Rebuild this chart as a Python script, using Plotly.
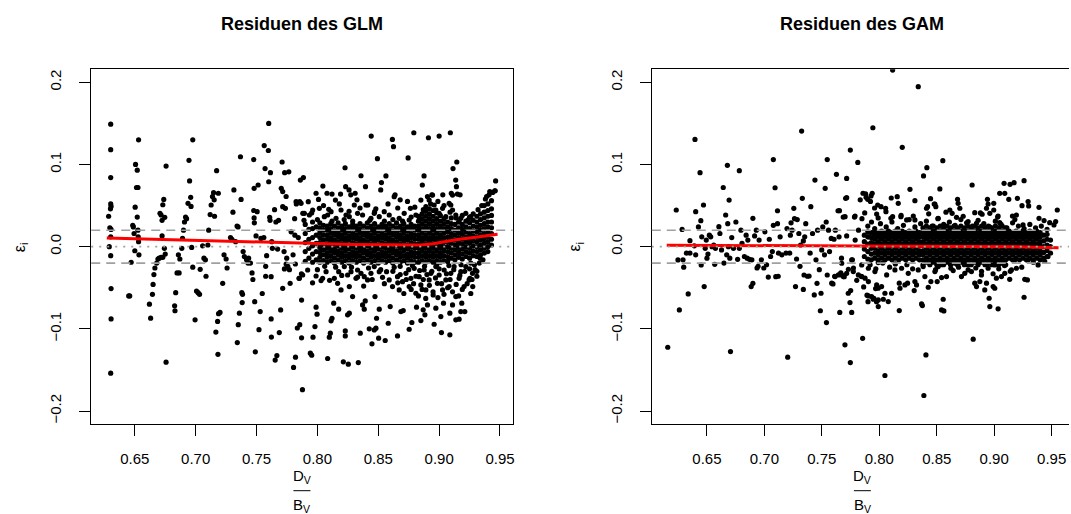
import plotly.graph_objects as go

# ---------------- data ----------------
# GLM residuals: scattered points (x = D_V/B_V, y = residual)
glm_sparse = [
 (0.6302,0.149),(0.6302,0.118),(0.6302,0.084),(0.6302,0.052),(0.6305,0.049),(0.6300,0.046),(0.6285,0.037),
 (0.6295,0.023),(0.6305,0.021),(0.6302,0.012),(0.6290,0.000),(0.6302,-0.011),(0.6305,-0.051),(0.6305,-0.088),(0.6302,-0.154),
 (0.6450,-0.060),(0.6458,-0.060),(0.6470,-0.019),(0.6483,0.026),(0.6488,0.024),(0.6494,0.016),(0.6500,-0.005),(0.6503,0.048),
 (0.6506,0.100),(0.6520,0.093),(0.6514,0.072),(0.6526,0.072),(0.6520,0.036),(0.6526,0.020),(0.6528,0.012),(0.6531,0.006),
 (0.6534,-0.010),(0.6531,0.130),
 (0.662,-0.070),(0.663,-0.087),(0.6645,-0.058),(0.665,-0.046),(0.6657,-0.034),(0.6665,-0.026),(0.668,-0.020),(0.669,-0.015),
 (0.670,-0.014),(0.6716,-0.013),(0.673,-0.013),(0.6707,0.0405),(0.6716,0.0385),(0.6724,0.032),(0.673,0.051),(0.6738,0.0575),
 (0.6746,0.0357),(0.6724,0.013),(0.6743,-0.002),(0.675,-0.009),(0.6757,-0.1406),(0.6757,0.098),
 (0.6827,-0.072),(0.683,-0.078),(0.6836,-0.056),(0.6847,-0.032),(0.6864,-0.032),(0.6858,-0.010),(0.687,-0.015),(0.6886,-0.002),
 (0.6892,0.010),(0.690,0.020),(0.6908,0.030),(0.6917,0.036),(0.6925,0.034),(0.6937,0.0527),(0.6945,0.105),(0.695,0.080),
 (0.6959,0.060),(0.6962,0.049),(0.6967,-0.001),(0.6976,0.130),(0.6976,-0.025),
 (0.6995,-0.089),(0.7007,-0.054),(0.702,-0.056),(0.7032,-0.058),(0.7037,-0.0276),(0.7057,0.001),(0.7068,-0.014),(0.708,-0.016),
 (0.7085,-0.036),(0.710,0.002),(0.7107,0.020),(0.7119,0.039),(0.7127,0.0507),(0.7138,0.061),(0.7147,0.0657),(0.7152,0.057),
 (0.7155,0.037),(0.7172,0.0924),(0.7166,-0.104),(0.718,-0.091),(0.7188,-0.0815),(0.720,-0.080),(0.7186,0.065),(0.7183,-0.131),
 (0.7222,-0.0446),(0.7233,-0.010),(0.725,-0.015),(0.7258,-0.026),(0.7286,0.011),(0.7298,0.009),(0.7306,0.042),(0.7314,0.069),
 (0.7328,0.006),(0.734,0.025),(0.7348,0.024),(0.7342,-0.1167),(0.735,-0.095),(0.7359,-0.081),(0.7368,0.1094),(0.7373,0.0575),
 (0.7379,-0.056),(0.7385,-0.058),(0.7382,-0.068),(0.739,-0.006),(0.740,-0.012),(0.7418,-0.016),(0.743,-0.020),(0.7435,-0.014),
 (0.745,-0.020),(0.7463,-0.032),(0.747,-0.040),
 (0.7477,0.044),(0.748,0.035),(0.7482,0.029),(0.7477,0.106),(0.748,0.071),(0.7485,-0.067),(0.749,-0.128),(0.7496,0.013),
 (0.7505,0.0425),(0.7513,0.075),(0.752,-0.101),(0.753,-0.079),(0.7536,0.010),(0.7547,-0.057),(0.756,0.011),(0.7563,0.123),
 (0.7575,-0.036),(0.757,0.095),(0.7575,-0.024),(0.7583,-0.011),(0.7597,0.117),(0.760,0.150),(0.760,0.079),(0.7608,0.0357),
 (0.7611,0.032),(0.7614,0.090),(0.762,-0.0365),(0.762,-0.088),(0.7622,-0.110),(0.7625,0.006),(0.763,-0.002),
 (0.7648,0.045),(0.7653,-0.138),(0.7659,0.030),(0.7667,-0.1325),(0.7673,-0.003),(0.7681,0.032),(0.7687,-0.1045),(0.7698,-0.077),
 (0.7703,0.071),(0.771,0.103),(0.7715,0.067),(0.7715,-0.0507),(0.7726,-0.006),(0.7731,0.090),(0.7743,0.061),(0.7737,0.0466),
 (0.7748,-0.014),(0.7757,-0.024),(0.7765,0.091),(0.777,-0.028),(0.7776,-0.0446),(0.7784,0.018),(0.780,-0.010),(0.7804,-0.147),
 (0.7813,0.034),(0.7815,0.014),(0.782,-0.1345),(0.7827,0.052),(0.7835,-0.099),(0.7843,0.011),(0.7849,-0.0385),(0.7855,0.0547),
 (0.7855,-0.095),(0.786,0.081),(0.7869,-0.033),(0.787,-0.065),(0.787,-0.111),(0.7877,-0.174),(0.7885,0.084),(0.788,0.0405),
 (0.789,0.032),
 # above the band
 (0.7925,0.0547),(0.7953,0.041),(0.7989,0.065),(0.8009,0.0575),(0.8045,0.0737),(0.8079,0.065),(0.8093,0.0454),(0.812,0.064),
 (0.8148,0.0567),(0.819,0.064),(0.8227,0.096),(0.8232,0.073),(0.826,0.069),(0.8274,0.063),(0.831,0.065),(0.8325,0.057),
 (0.8358,0.0863),(0.8395,0.073),(0.8414,0.0507),(0.8442,0.1346),(0.847,0.0426),(0.8493,0.107),(0.852,0.069),(0.8526,0.078),
 (0.8563,0.086),(0.8616,0.1305),(0.8625,0.1216),(0.8638,0.063),(0.868,0.057),(0.8745,0.108),(0.8764,0.0466),(0.8792,0.1386),
 (0.8862,0.075),(0.8876,0.086),(0.8912,0.1325),(0.8904,0.061),(0.894,0.063),(0.900,0.1346),(0.903,0.063),(0.9092,0.1386),
 (0.9114,0.095),(0.9145,0.103),(0.9136,0.081),(0.9142,0.073),(0.9100,0.065),(0.9150,0.064),(0.9172,0.063),
 (0.7715,0.0486),(0.7825,0.0547),(0.7866,0.0527),(0.7893,0.0405),(0.7934,0.0385),(0.7961,0.0446),(0.8016,0.0466),(0.8057,0.0365),
 (0.8084,0.0385),(0.8112,0.0426),(0.8153,0.0345),(0.8194,0.0446),(0.8235,0.0385),(0.8262,0.0365),(0.8303,0.0507),(0.8330,0.0405),
 (0.8371,0.0385),(0.8399,0.0507),(0.8440,0.0345),(0.8467,0.0405),(0.8508,0.0365),(0.8549,0.0426),(0.8590,0.0385),(0.8631,0.0608),
 (0.8672,0.0345),(0.8713,0.0405),(0.8754,0.0324),(0.8809,0.0385),(0.8850,0.0567),(0.8891,0.0486),(0.8918,0.0567),(0.8946,0.0628),
 (0.8959,0.0507),(0.8973,0.0446),(0.9000,0.0405),(0.9028,0.0466),(0.9055,0.0365),(0.9082,0.0527),(0.9110,0.0446),(0.9137,0.0385),
 (0.9178,0.0345),(0.9219,0.0405),(0.9260,0.0365),(0.9110,0.0628),(0.9096,0.0507),(0.9164,0.0304),
 (0.800,0.033),(0.812,0.031),(0.822,0.033),(0.829,0.031),(0.843,0.032),(0.855,0.031),(0.862,0.033),(0.870,0.031),(0.877,0.036),
 (0.884,0.034),(0.893,0.052),(0.899,0.055),(0.904,0.050),(0.887,0.045),(0.880,0.048),(0.848,0.046),(0.835,0.047),(0.818,0.052),
 (0.805,0.050),(0.826,0.043),(0.858,0.052),(0.866,0.047),(0.874,0.055),(0.909,0.042),(0.914,0.035),(0.919,0.038),(0.924,0.033),
 (0.928,0.040),(0.932,0.045),(0.935,0.050),(0.938,0.058),(0.941,0.063),(0.944,0.066),(0.946,0.068),(0.9464,0.080),(0.9458,0.068),
 (0.9416,0.067),(0.939,0.061),
 # below the band
 (0.7729,-0.0271),(0.7743,-0.0211),(0.7819,-0.0211),(0.7852,-0.0385),(0.7879,-0.0345),(0.7920,-0.0284),(0.7989,-0.0357),
 (0.8030,-0.0413),(0.8043,-0.0385),(0.8071,-0.0304),(0.8139,-0.0385),(0.8166,-0.0446),(0.8175,-0.0304),(0.8194,-0.0527),
 (0.8221,-0.0243),(0.8248,-0.0345),(0.8262,-0.0486),(0.8276,-0.0304),(0.8317,-0.0385),(0.8330,-0.0284),(0.8358,-0.0324),
 (0.8385,-0.0365),(0.8412,-0.0405),(0.8440,-0.0324),(0.8467,-0.0243),(0.8508,-0.0304),(0.8535,-0.0373),(0.8568,-0.0304),
 (0.8590,-0.0405),(0.8617,-0.0486),(0.8631,-0.0251),(0.8658,-0.0365),(0.8672,-0.0527),(0.8699,-0.0426),(0.8727,-0.0324),
 (0.8754,-0.0486),(0.8768,-0.0385),(0.8795,-0.0264),(0.8809,-0.0567),(0.8836,-0.0365),(0.8850,-0.0466),(0.8877,-0.0284),
 (0.8891,-0.0527),(0.8918,-0.0405),(0.8932,-0.0324),(0.8951,-0.0588),(0.8973,-0.0243),(0.8986,-0.0446),(0.9000,-0.0345),
 (0.9028,-0.0527),(0.9041,-0.0284),(0.9055,-0.0405),(0.9082,-0.0486),(0.9096,-0.0324),(0.9123,-0.0243),(0.9137,-0.0608),
 (0.9164,-0.0385),(0.9178,-0.0304),(0.9205,-0.0486),(0.9219,-0.0243),(0.9246,-0.0405),(0.9274,-0.0324),
 (0.862,-0.030),(0.866,-0.044),(0.868,-0.034),(0.871,-0.057),(0.873,-0.040),(0.875,-0.028),(0.877,-0.052),(0.879,-0.045),
 (0.881,-0.036),(0.883,-0.060),(0.884,-0.029),(0.886,-0.052),(0.887,-0.040),(0.889,-0.063),(0.890,-0.034),(0.892,-0.047),
 (0.894,-0.030),(0.895,-0.055),(0.897,-0.038),(0.899,-0.062),(0.900,-0.027),(0.902,-0.045),(0.904,-0.058),(0.906,-0.033),
 (0.907,-0.050),(0.909,-0.040),(0.911,-0.055),(0.912,-0.028),(0.914,-0.046),(0.916,-0.060),(0.917,-0.035),(0.919,-0.052),
 (0.921,-0.030),(0.923,-0.045),(0.925,-0.027),(0.927,-0.040),(0.929,-0.022),(0.931,-0.030),(0.933,-0.020),(0.868,-0.024),
 (0.878,-0.023),(0.888,-0.024),(0.898,-0.022),(0.908,-0.023),(0.918,-0.022),(0.926,-0.020),(0.855,-0.045),(0.852,-0.028),
 (0.845,-0.040),(0.842,-0.026),(0.838,-0.048),(0.833,-0.037),(0.828,-0.025),(0.820,-0.035),(0.815,-0.025),(0.810,-0.041),
 (0.806,-0.024),(0.800,-0.028),(0.796,-0.044),
 (0.9253,-0.0385),(0.9295,-0.028),(0.9276,-0.0486),(0.926,-0.057),(0.9337,-0.014),(0.936,-0.016),(0.931,-0.036),
 (0.7989,-0.0737),(0.7997,-0.0822),(0.7980,-0.0972),(0.7964,-0.1102),(0.7942,-0.1296),(0.7953,-0.1321),(0.8084,-0.1361),
 (0.8112,-0.0903),(0.8120,-0.0871),(0.8106,-0.1053),(0.8098,-0.1102),(0.8134,-0.0688),(0.8175,-0.0761),(0.8213,-0.1402),
 (0.8229,-0.1025),(0.8229,-0.1086),(0.8248,-0.0830),(0.8262,-0.0810),(0.8254,-0.1430),(0.8289,-0.0607),(0.8336,-0.1410),
 (0.8352,-0.1053),(0.8371,-0.0709),(0.8385,-0.0761),(0.8393,-0.0660),(0.8426,-0.1000),(0.8448,-0.1183),(0.8467,-0.1013),
 (0.8481,-0.0992),(0.8486,-0.0871),(0.8473,-0.0607),(0.8503,-0.1114),(0.8508,-0.0761),(0.8557,-0.1142),(0.8582,-0.0932),
 (0.8598,-0.0729),(0.8658,-0.1086),(0.8686,-0.0790),(0.8705,-0.0778),(0.8754,-0.1005),(0.8776,-0.0923),(0.8814,-0.0737),
 (0.8850,-0.0899),(0.8869,-0.0769),(0.8883,-0.0830),(0.8904,-0.0709),(0.8959,-0.0944),(0.8973,-0.0749),(0.9019,-0.1045),
 (0.9014,-0.0851),(0.9036,-0.0688),(0.9088,-0.1073),(0.9088,-0.0810),(0.9110,-0.0709),(0.9137,-0.0891),(0.9164,-0.0883),
 (0.9186,-0.0688),(0.9178,-0.0790),(0.9211,-0.0790),
]

# GLM dense band: column positions and residuals in thousandths
glm_core_x = [0.790,0.793,0.796,0.799,0.802,0.805,0.808,0.811,0.814,0.817,0.820,0.823,0.826,0.829,0.832,0.835,
              0.838,0.841,0.844,0.847,0.850,0.853,0.856,0.859,0.862,0.865,0.868,0.871,0.874,0.877,0.880,0.883,
              0.886,0.889,0.892,0.895,0.898,0.901,0.904,0.907,0.910,0.913,0.916,0.919,0.922,0.925,0.928,0.931,
              0.934,0.937,0.940,0.943]
glm_core_y = [
 [-18,-6,5,16,27],[-14,-2,9,21],[-19,-9,1,11,22,30],[-16,-6,4,14,24],
 [-19,-13,-7,-1,5,11,17,23,29],[-17,-10,-4,2,8,14,20,26],[-19,-13,-8,-2,3,9,14,20,25],[-17,-11,-5,0,6,11,17,22,28],
 [-20,-14,-8,-3,3,8,14,19,25],[-16,-10,-5,1,6,12,17,23,29],[-19,-13,-8,-2,3,9,14,20,25],[-17,-11,-5,0,6,11,17,22,28],
 [-20,-14,-9,-3,2,8,13,19,24],[-17,-11,-6,0,5,11,16,22,27],[-19,-13,-8,-2,3,9,14,20,25],[-17,-11,-5,0,6,11,17,22,28],
 [-20,-14,-8,-3,3,8,14,19,25],[-16,-10,-5,1,6,12,17,23,29],[-19,-13,-8,-2,3,9,14,20,25],[-17,-11,-5,0,6,11,17,22,28],
 [-20,-14,-9,-3,2,8,13,19,24],[-17,-11,-6,0,5,11,16,22,27],[-19,-13,-8,-2,3,9,14,20,25],[-17,-11,-5,0,6,11,17,22,28],
 [-20,-14,-8,-3,3,8,14,19,25],[-16,-10,-5,1,6,12,17,23,29],[-19,-13,-8,-2,3,9,14,20,25],[-17,-11,-5,0,6,11,17,22,28],
 [-20,-14,-9,-3,2,8,13,19,24],[-17,-11,-6,0,5,11,16,22,27],[-19,-13,-8,-2,3,9,14,20,25],[-19,-13,-8,-2,3,9,14,20,25,31,37],
 [-17,-11,-5,0,6,11,17,22,28,34,40],[-19,-13,-8,-2,3,9,14,20,25,31,37,43],[-17,-11,-5,0,6,11,17,22,28,34,40,46],
 [-19,-13,-8,-2,3,9,14,20,25,31,37,44],[-17,-11,-5,0,6,11,17,22,28,34,41],[-19,-13,-8,-2,3,9,14,20,25,31,38],
 [-17,-11,-5,0,6,11,17,22,28,34],[-18,-12,-6,0,6,12,18,24,30],[-14,-8,-2,4,10,16,22,28,35],[-16,-10,-4,2,8,14,20,27],
 [-13,-7,-1,5,11,17,23,30],[-15,-9,-3,3,9,15,21,27],[-12,-6,0,6,12,18,24,31],[-14,-8,-2,4,10,16,22,29,36],
 [-11,-5,1,7,13,19,25,32],[-12,-6,0,6,12,18,24,30,37],[-10,-4,2,8,14,20,26,33,40],[-8,-2,4,10,16,22,28,35,42,50],
 [-6,0,6,12,18,24,30,37,44,52],[2,9,16,23,30,38,46,56],
]

# GLM smooth (red line)
glm_fit_x = [0.627,0.66,0.70,0.74,0.77,0.80,0.83,0.86,0.885,0.895,0.905,0.915,0.93,0.948]
glm_fit_y = [0.0105,0.0093,0.0077,0.0060,0.0045,0.0034,0.0027,0.0022,0.0020,0.0035,0.0065,0.0088,0.0115,0.0152]

# GAM residuals: scattered points
gam_sparse = [
 (0.6159,-0.1224),(0.6233,0.0446),(0.6248,-0.0162),(0.626,-0.077),(0.6284,0.021),(0.6292,-0.016),(0.6298,-0.025),(0.6322,-0.008),
 (0.6337,-0.0575),(0.6352,0.0073),(0.6352,-0.008),(0.639,0.001),(0.6396,0.1305),(0.6402,0.0426),(0.6402,-0.010),(0.6426,0.024),
 (0.644,0.090),(0.6447,0.0316),(0.645,-0.0223),(0.6455,0.012),(0.647,0.0507),(0.6476,-0.0486),(0.6485,-0.002),(0.6494,0.008),
 (0.65,-0.014),(0.6509,-0.009),(0.6521,0.014),(0.6533,0.012),(0.6544,0.0),(0.6559,0.002),(0.6568,-0.0215),(0.6574,-0.002),
 (0.6604,0.0243),(0.6613,0.016),(0.6627,-0.004),(0.6642,0.072),(0.6648,-0.020),(0.6663,0.0385),(0.6672,-0.010),(0.6678,0.099),
 (0.6681,0.028),(0.6687,0.0),(0.6693,0.0567),(0.6699,-0.014),(0.6705,-0.1277),(0.6716,0.011),(0.6731,-0.002),(0.6752,0.030),
 (0.6767,-0.0154),(0.6782,0.0924),(0.6782,-0.002),(0.6796,0.020),(0.6805,0.004),(0.6826,-0.012),(0.6841,0.014),(0.685,-0.014),
 (0.6856,0.008),(0.687,-0.0154),(0.6885,-0.0486),(0.6891,-0.016),(0.690,0.0345),(0.690,-0.0446),(0.6915,0.013),(0.693,0.020),
 (0.6936,-0.026),(0.6945,-0.024),(0.6954,0.008),(0.6974,-0.016),(0.6995,-0.026),(0.7004,0.018),(0.7019,-0.022),(0.7034,-0.037),
 (0.7043,0.009),(0.7054,-0.012),(0.7069,-0.006),(0.7078,0.106),(0.7078,0.026),(0.7093,0.0717),(0.7099,-0.0365),(0.7114,0.0437),
 (0.7114,0.028),(0.7120,-0.036),(0.7123,-0.008),(0.7137,0.012),(0.7152,-0.010),(0.7188,-0.008),(0.7197,0.022),(0.7203,-0.1345),
 (0.7220,-0.008),(0.7226,0.014),(0.7232,0.029),(0.7241,0.020),(0.7256,0.0466),(0.7262,0.034),(0.7271,-0.0486),(0.7280,-0.015),
 (0.7286,0.033),(0.7300,0.016),(0.731,-0.024),(0.7315,0.002),(0.7324,0.1406),(0.733,0.0588),(0.7339,0.007),(0.7339,-0.052),
 (0.7345,-0.0345),(0.7351,0.012),(0.7360,0.028),(0.7375,-0.036),(0.7389,-0.0357),(0.7398,-0.008),(0.7404,0.0486),(0.7419,0.016),
 (0.7434,-0.0587),(0.744,0.081),(0.7449,-0.016),(0.7458,-0.0446),(0.7463,0.020),(0.7478,-0.028),(0.7487,-0.078),(0.7493,-0.0567),
 (0.7499,-0.004),(0.7508,0.024),(0.7523,-0.010),(0.7529,0.071),(0.7538,0.030),(0.754,-0.0924),(0.7547,-0.0345),(0.7547,0.106),
 (0.7558,0.020),(0.7567,-0.006),(0.7582,0.010),(0.7597,-0.0454),(0.7606,0.009),(0.7612,-0.036),(0.7627,0.088),(0.7618,0.020),
 (0.7641,0.0437),(0.7650,0.012),(0.7656,-0.080),(0.7665,-0.032),(0.7671,-0.014),(0.7686,0.036),(0.7695,-0.0365),(0.7701,-0.1195),
 (0.7707,0.0588),(0.7716,0.013),(0.7716,0.083),(0.773,-0.0567),(0.7745,-0.068),(0.7748,0.1175),(0.7748,-0.141),(0.776,-0.080),
 (0.7766,-0.016),(0.7775,-0.026),(0.7784,0.036),(0.7790,0.008),(0.7804,-0.041),(0.7813,0.1025),(0.7819,0.020),(0.7834,0.057),
 (0.7843,-0.036),(0.7849,0.034),(0.7855,-0.1115),(0.7858,0.065),(0.7864,-0.049),(0.7873,0.041),(0.7885,0.060),(0.7893,-0.059),
 (0.7902,-0.067),(0.7908,0.012),(0.7923,0.055),(0.7932,0.030),(0.7938,0.065),(0.7944,0.1447),(0.7953,-0.063),(0.7959,0.047),
 (0.7968,-0.051),(0.7976,-0.067),
 # above the band
 (0.8116,0.2148),(0.8339,0.1946),(0.8200,0.1208),(0.8414,0.0961),(0.8553,0.1046),(0.8385,0.0860),(0.8267,0.0698),(0.8527,0.0702),
 (0.8808,0.0750),(0.9086,0.0770),(0.9138,0.0758),(0.9173,0.0779),(0.9260,0.0803),(0.9048,0.0649),(0.9092,0.0649),(0.7881,0.0641),
 (0.7928,0.0617),(0.7899,0.0576),(0.7716,0.0596),(0.8104,0.0592),(0.8156,0.0608),(0.8165,0.0527),(0.8310,0.0560),(0.8446,0.0584),
 (0.8484,0.0519),(0.8492,0.0487),(0.8681,0.0576),(0.8686,0.0527),(0.8941,0.0576),(0.8947,0.0519),(0.8996,0.0527),(0.8933,0.0467),
 (0.9127,0.0576),(0.9202,0.0588),(0.9295,0.0548),(0.9242,0.0499),(0.9300,0.0495),(0.9390,0.0479),(0.9549,0.0446),(0.7653,0.0438),
 (0.7986,0.0507),(0.8015,0.0487),(0.8055,0.0467),(0.8058,0.0426),(0.7977,0.0397),(0.7789,0.0373),(0.7702,0.0365),(0.8101,0.0345),
 (0.8116,0.0365),(0.8188,0.0365),(0.8238,0.0325),(0.8296,0.0373),(0.8310,0.0325),(0.8411,0.0467),(0.8420,0.0487),(0.8478,0.0519),
 (0.8513,0.0345),(0.8614,0.0446),(0.8634,0.0406),(0.8672,0.0357),(0.8701,0.0467),(0.8773,0.0305),(0.8831,0.0414),(0.8846,0.0284),
 (0.8895,0.0394),(0.8962,0.0406),(0.8996,0.0446),(0.9034,0.0373),(0.9048,0.0292),(0.9159,0.0373),(0.9193,0.0385),(0.9251,0.0264),
 (0.9390,0.0345),(0.9434,0.0317),(0.9483,0.0292),(0.9535,0.0305),(0.9520,0.0264),
 (0.790,0.025),(0.796,0.022),(0.801,0.028),(0.806,0.024),(0.811,0.030),(0.816,0.022),(0.821,0.026),(0.826,0.033),(0.831,0.024),
 (0.836,0.028),(0.841,0.031),(0.846,0.025),(0.851,0.034),(0.856,0.027),(0.861,0.030),(0.866,0.026),(0.871,0.033),(0.876,0.029),
 (0.881,0.025),(0.886,0.032),(0.891,0.028),(0.896,0.024),(0.901,0.031),(0.906,0.027),(0.911,0.023),(0.916,0.029),(0.921,0.025),
 (0.926,0.022),(0.931,0.027),(0.936,0.023),(0.941,0.025),(0.946,0.021),(0.799,0.035),(0.819,0.038),(0.843,0.040),(0.858,0.042),
 (0.873,0.037),(0.888,0.041),(0.903,0.036),(0.918,0.033),
 # below the band
 (0.8388,-0.1811),(0.8049,-0.1568),(0.8406,-0.1317),(0.8817,-0.1126),(0.7751,-0.0534),(0.8174,-0.0778),(0.8368,-0.0697),
 (0.8375,-0.0717),(0.8542,-0.0770),(0.8562,-0.0782),(0.8556,-0.0640),(0.8956,-0.0628),(0.8962,-0.0729),(0.9034,-0.0757),
 (0.9260,-0.0616),(0.7905,-0.0599),
 (0.7933,-0.0607),(0.7948,-0.0640),(0.7991,-0.0648),(0.7991,-0.0729),(0.8035,-0.0640),(0.8078,-0.0668),(0.8049,-0.0567),
 (0.8020,-0.0486),(0.7977,-0.0466),(0.7991,-0.0506),(0.8107,-0.0567),(0.8180,-0.0506),(0.8174,-0.0445),(0.8223,-0.0466),
 (0.8246,-0.0445),(0.8304,-0.0534),(0.8310,-0.0425),(0.8324,-0.0466),(0.8426,-0.0494),(0.8449,-0.0425),(0.8504,-0.0425),
 (0.8542,-0.0376),(0.8585,-0.0364),(0.8623,-0.0263),(0.8643,-0.0291),(0.8715,-0.0364),(0.8744,-0.0324),(0.8773,-0.0283),
 (0.8802,-0.0303),(0.8831,-0.0445),(0.8846,-0.0486),(0.8875,-0.0425),(0.8889,-0.0344),(0.8918,-0.0526),(0.8933,-0.0445),
 (0.8991,-0.0486),(0.9005,-0.0506),(0.9019,-0.0384),(0.9063,-0.0364),(0.9092,-0.0324),(0.9135,-0.0397),(0.9150,-0.0283),
 (0.9193,-0.0263),(0.9266,-0.0397),(0.9289,-0.0405),(0.7586,-0.0445),(0.7615,-0.0364),(0.7644,-0.0344),(0.7673,-0.0344),
 (0.7716,-0.0324),(0.7687,-0.0364),(0.7731,-0.0275),(0.7774,-0.0303),(0.7818,-0.0344),(0.7847,-0.0364),(0.7876,-0.0384),
 (0.7905,-0.0425),(0.7962,-0.0303),(0.7673,-0.0202),(0.7760,-0.0162),(0.7847,-0.0222),(0.7905,-0.0263),(0.7991,-0.0194),
 (0.8064,-0.0344),(0.8136,-0.0283),(0.8194,-0.0263),(0.8252,-0.0324),(0.8339,-0.0283),(0.8397,-0.0364),(0.8382,-0.0243),
 (0.8484,-0.0303),(0.8513,-0.0243),(0.8600,-0.0162),(0.8658,-0.0202),(0.8773,-0.0222),(0.8860,-0.0202),(0.8947,-0.0263),
 (0.9005,-0.0222),(0.9063,-0.0202),(0.9179,-0.0162),(0.9295,-0.0162),(0.9382,-0.0222),(0.9468,-0.0121),
 (0.792,-0.022),(0.797,-0.027),(0.803,-0.020),(0.809,-0.025),(0.814,-0.021),(0.824,-0.022),(0.829,-0.027),(0.844,-0.020),
 (0.849,-0.028),(0.854,-0.022),(0.869,-0.025),(0.874,-0.021),(0.884,-0.026),(0.889,-0.030),(0.894,-0.022),(0.899,-0.033),
 (0.904,-0.027),(0.909,-0.023),(0.914,-0.030),(0.924,-0.025),(0.934,-0.019),(0.944,-0.018),
]

# GAM dense band: column positions and residuals in thousandths
gam_core_x = [0.787,0.790,0.793,0.796,0.799,0.802,0.805,0.808,0.811,0.814,0.817,0.820,0.823,0.826,0.829,0.832,
              0.835,0.838,0.841,0.844,0.847,0.850,0.853,0.856,0.859,0.862,0.865,0.868,0.871,0.874,0.877,0.880,
              0.883,0.886,0.889,0.892,0.895,0.898,0.901,0.904,0.907,0.910,0.913,0.916,0.919,0.922,0.925,0.928,
              0.931,0.934,0.937,0.940,0.943,0.946,0.949,0.952]
gam_core_y = [
 [-12,-3,6,14],[-15,-6,3,12,18],[-16,-9,-2,5,11,17],[-14,-8,-2,3,9,14,19],[-16,-10,-5,1,6,12,17],[-14,-8,-2,3,9,14,19],
 [-16,-10,-5,1,6,12,17],[-14,-8,-2,3,9,14,19],[-16,-10,-5,1,6,12,17],[-14,-8,-2,3,9,14,19],[-16,-10,-5,1,6,12,17],
 [-14,-8,-2,3,9,14,19],[-16,-10,-5,1,6,12,17],[-14,-8,-2,3,9,14,19],[-16,-10,-5,1,6,12,17],[-14,-8,-2,3,9,14,19],
 [-16,-10,-5,1,6,12,17],
 [-22,-16,-10,-5,1,6,12,17,23],[-19,-14,-8,-2,3,9,14,19,25],[-22,-16,-10,-5,1,6,12,17,23],[-19,-14,-8,-2,3,9,14,19,25],
 [-22,-16,-10,-5,1,6,12,17,23],[-19,-14,-8,-2,3,9,14,19,25],[-22,-16,-10,-5,1,6,12,17,23],[-19,-14,-8,-2,3,9,14,19,25],
 [-22,-16,-10,-5,1,6,12,17,23],[-19,-14,-8,-2,3,9,14,19,25],[-22,-16,-10,-5,1,6,12,17,23],[-19,-14,-8,-2,3,9,14,19,25],
 [-22,-16,-10,-5,1,6,12,17,23],[-19,-14,-8,-2,3,9,14,19,25],[-22,-16,-10,-5,1,6,12,17,23],[-19,-14,-8,-2,3,9,14,19,25],
 [-22,-16,-10,-5,1,6,12,17,23],[-19,-14,-8,-2,3,9,14,19,25],[-22,-16,-10,-5,1,6,12,17,23],[-19,-14,-8,-2,3,9,14,19,25],
 [-22,-16,-10,-5,1,6,12,17,23],[-19,-14,-8,-2,3,9,14,19,25],[-22,-16,-10,-5,1,6,12,17,23],[-19,-14,-8,-2,3,9,14,19,25],
 [-22,-16,-10,-5,1,6,12,17,23],
 [-14,-8,-2,3,9,14,19],[-16,-10,-5,1,6,12,17],[-14,-8,-2,3,9,14,19],[-16,-10,-5,1,6,12,17],[-14,-8,-2,3,9,14,19],
 [-16,-10,-5,1,6,12,17],[-14,-8,-2,3,9,14,19],[-16,-10,-5,1,6,12,17],[-14,-8,-2,3,9,14,19],[-16,-10,-5,1,6,12,17],
 [-14,-7,0,7,14],[-12,-5,2,9,15],[-8,0,8],
]

# GAM smooth (red line)
gam_fit_x = [0.615,0.70,0.80,0.88,0.92,0.956]
gam_fit_y = [0.0018,0.0013,0.0007,0.0002,-0.0002,-0.0012]

x_tick_vals = [0.65,0.70,0.75,0.80,0.85,0.90,0.95]
x_tick_text = ["0.65","0.70","0.75","0.80","0.85","0.90","0.95"]
y_tick_vals = [-0.2,-0.1,0.0,0.1,0.2]
y_tick_text = ["\u22120.2","\u22120.1","0.0","0.1","0.2"]
ref_lines = [0.02,-0.02]
titles = ["Residuen des GLM","Residuen des GAM"]

# ---------------- figure ----------------
W, H = 1071, 514
FONT = "Liberation Sans, Arial, Helvetica, sans-serif"

def expand(sparse, cx, cy):
    xs = [p[0] for p in sparse]
    ys = [p[1] for p in sparse]
    for x, col in zip(cx, cy):
        for v in col:
            xs.append(x)
            ys.append(v / 1000.0)
    return xs, ys

fig = go.Figure()
gx, gy = expand(glm_sparse, glm_core_x, glm_core_y)
ax_, ay_ = expand(gam_sparse, gam_core_x, gam_core_y)
mk = dict(color="black", size=5.2, line=dict(width=0))
fig.add_trace(go.Scatter(x=gx, y=gy, mode="markers", marker=mk, xaxis="x", yaxis="y", hoverinfo="skip"))
fig.add_trace(go.Scatter(x=glm_fit_x, y=glm_fit_y, mode="lines", line=dict(color="red", width=3),
                         xaxis="x", yaxis="y", hoverinfo="skip"))
fig.add_trace(go.Scatter(x=ax_, y=ay_, mode="markers", marker=mk, xaxis="x2", yaxis="y2", hoverinfo="skip"))
fig.add_trace(go.Scatter(x=gam_fit_x, y=gam_fit_y, mode="lines", line=dict(color="red", width=3),
                         xaxis="x2", yaxis="y2", hoverinfo="skip"))

ydom = [1 - 424/H, 1 - 69.3/H]
common_x = dict(showgrid=False, zeroline=False, showline=True, linecolor="black", linewidth=1,
                ticks="outside", ticklen=11, tickwidth=1, tickcolor="black",
                tickvals=x_tick_vals, ticktext=x_tick_text,
                tickfont=dict(family=FONT, size=15, color="black"), ticklabelstandoff=10)
common_y = dict(showgrid=False, zeroline=False, showline=True, linecolor="black", linewidth=1,
                ticks="outside", ticklen=11, tickwidth=1, tickcolor="black",
                tickvals=y_tick_vals, ticktext=y_tick_text, tickangle=-90,
                tickfont=dict(family=FONT, size=15, color="black"), ticklabelstandoff=12,
                range=[-0.2158, 0.2158], domain=ydom)

fig.update_layout(
    width=W, height=H, margin=dict(l=0, r=0, t=0, b=0),
    paper_bgcolor="white", plot_bgcolor="white", showlegend=False,
    xaxis=dict(common_x, domain=[91.4/W, 513.5/W], range=[0.6142, 0.9603], mirror=True, anchor="y"),
    yaxis=dict(common_y, mirror=True, anchor="x"),
    xaxis2=dict(common_x, domain=[653.0/W, 1.0], range=[0.602, 0.9651], mirror=True, anchor="y2"),
    yaxis2=dict(common_y, mirror=False, anchor="x2"),
)

shapes = []
for xr, yr in (("x", "y"), ("x2", "y2")):
    for v in ref_lines:
        shapes.append(dict(type="line", xref=xr + " domain", yref=yr, x0=0, x1=1, y0=v, y1=v,
                           line=dict(color="#a0a0a0", width=1.6, dash="9px,6px"), layer="above"))
    shapes.append(dict(type="line", xref=xr + " domain", yref=yr, x0=0, x1=1, y0=0, y1=0,
                       line=dict(color="#a0a0a0", width=1.6, dash="2px,6px"), layer="above"))

annotations = []
centers = [302.5, 864.0]
for cx, t in zip(centers, titles):
    annotations.append(dict(text="<b>%s</b>" % t, x=cx/W, y=1 - 24.2/H, xref="paper", yref="paper",
                            showarrow=False, xanchor="center", yanchor="middle",
                            font=dict(family=FONT, size=18, color="black")))
    annotations.append(dict(text="D<sub>V</sub>", x=cx/W, y=1 - 476/H, xref="paper", yref="paper",
                            showarrow=False, xanchor="center", yanchor="middle",
                            font=dict(family=FONT, size=15, color="black")))
    annotations.append(dict(text="B<sub>V</sub>", x=cx/W, y=1 - 505/H, xref="paper", yref="paper",
                            showarrow=False, xanchor="center", yanchor="middle",
                            font=dict(family=FONT, size=15, color="black")))
    shapes.append(dict(type="line", xref="paper", yref="paper", x0=(cx - 8.5)/W, x1=(cx + 8.5)/W,
                       y0=1 - 490.7/H, y1=1 - 490.7/H, line=dict(color="black", width=1)))
for lx in (20.5, 577.0):
    annotations.append(dict(text="\u03b5<sub>i</sub>", x=lx/W, y=1 - 246.7/H, xref="paper", yref="paper",
                            showarrow=False, xanchor="center", yanchor="middle", textangle=-90,
                            font=dict(family=FONT, size=16, color="black")))

fig.update_layout(shapes=shapes, annotations=annotations)
fig.write_html("out.html")
